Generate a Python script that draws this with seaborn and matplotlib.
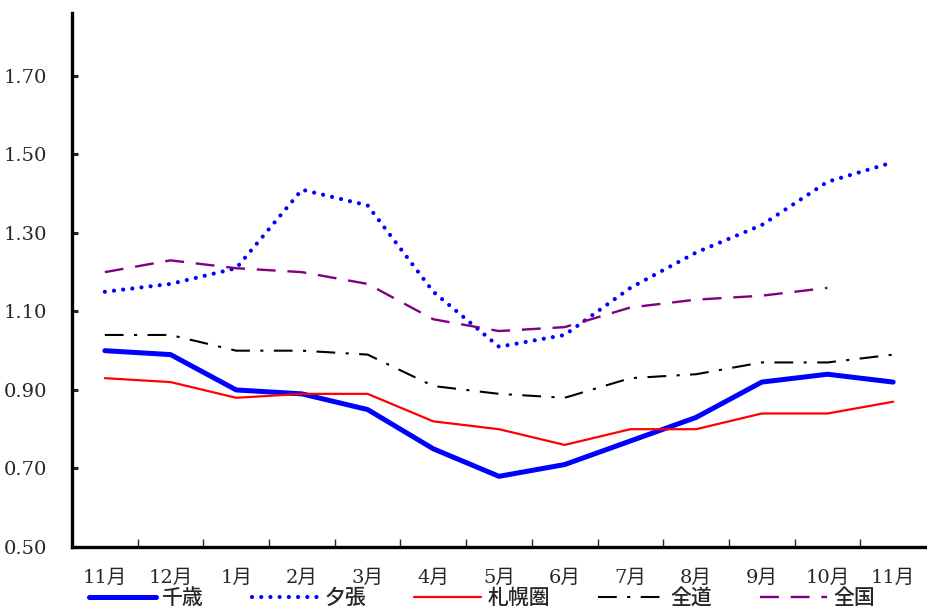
import numpy as np
import pandas as pd
import matplotlib
matplotlib.use("Agg")
import matplotlib.pyplot as plt
import seaborn as sns
from matplotlib.ticker import FixedLocator

months = ["11月", "12月", "1月", "2月", "3月", "4月", "5月", "6月",
          "7月", "8月", "9月", "10月", "11月"]

chitose = [1.00, 0.99, 0.90, 0.89, 0.85, 0.75, 0.68, 0.71, 0.77, 0.83, 0.92, 0.94, 0.92]
yubari = [1.15, 1.17, 1.21, 1.41, 1.37, 1.15, 1.01, 1.04, 1.16, 1.25, 1.32, 1.43, 1.48]
sapporo = [0.93, 0.92, 0.88, 0.89, 0.89, 0.82, 0.80, 0.76, 0.80, 0.80, 0.84, 0.84, 0.87]
zendo = [1.04, 1.04, 1.00, 1.00, 0.99, 0.91, 0.89, 0.88, 0.93, 0.94, 0.97, 0.97, 0.99]
zenkoku = [1.20, 1.23, 1.21, 1.20, 1.17, 1.08, 1.05, 1.06, 1.11, 1.13, 1.14, 1.16, np.nan]

yticks = [0.50, 0.70, 0.90, 1.10, 1.30, 1.50, 1.70]

sns.set_style("white")
plt.rcParams["font.family"] = ["DejaVu Serif", "Noto Sans CJK JP"]

fig = plt.figure(figsize=(9.27, 6.08), dpi=100)
ax = fig.add_axes([72 / 927, 61 / 608, 854 / 927, 534 / 608])

x = np.arange(len(months))
series = [
    ("千歳", chitose, dict(color="#0000ff", lw=3.6, ls="-", solid_capstyle="round")),
    ("夕張", yubari, dict(color="#0000ff", lw=3.0, ls=(0, (0.01, 2.2)), dash_capstyle="round")),
    ("札幌圏", sapporo, dict(color="#ff0000", lw=1.6, ls="-")),
    ("全道", zendo, dict(color="black", lw=1.5, ls=(0, (9, 5, 1.5, 5)))),
    ("全国", zenkoku, dict(color="#800080", lw=1.7, ls=(0, (8, 5)))),
]
for name, vals, style in series:
    sns.lineplot(x=x, y=vals, ax=ax, label=name, **style)

ax.set_xlim(-0.5, len(months) - 0.5)
ax.set_ylim(0.5, 1.86)
ax.set_yticks(yticks)
ax.set_yticklabels([f"{v:.2f}" for v in yticks], fontsize=14)
ax.set_xticks(x)
ax.set_xticklabels(months, fontsize=14)
ax.xaxis.set_minor_locator(FixedLocator(np.arange(0.5, len(months) - 0.5, 1)))

ax.tick_params(axis="x", which="major", length=0, pad=16)
ax.tick_params(axis="x", which="minor", direction="in", length=6, width=1, bottom=True)
ax.tick_params(axis="y", direction="in", length=4, width=2.2, left=True, pad=18)

for side in ["top", "right"]:
    ax.spines[side].set_visible(False)
for side in ["left", "bottom"]:
    ax.spines[side].set_linewidth(2.4)
    ax.spines[side].set_color("black")

handles, labels = ax.get_legend_handles_labels()
ax.get_legend().remove()
fig.legend(handles, labels, loc="center", bbox_to_anchor=(482 / 927, 10 / 608),
           ncol=5, frameon=False, handlelength=3.2, columnspacing=2.3,
           handletextpad=0.3, prop={"family": ["Noto Sans CJK JP"], "size": 15,
                                    "weight": "medium"})

fig.savefig("out.png", dpi=100)
